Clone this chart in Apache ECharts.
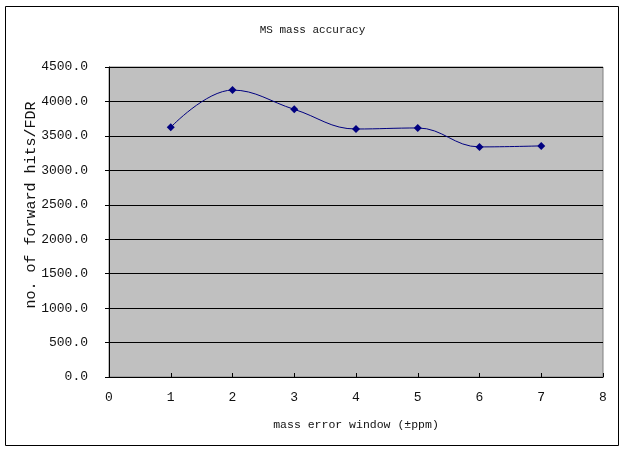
<!DOCTYPE html>
<html>
<head>
<meta charset="utf-8">
<script src="https://cdn.jsdelivr.net/npm/echarts@6/dist/echarts.min.js"></script>
<style>html,body{margin:0;padding:0;background:#fff;}#c{width:625px;height:450px;}</style>
</head>
<body>
<div id="c"></div>
<script>
var xValues = [1, 2, 3, 4, 5, 6, 7];
var hits = [3625, 4165, 3885, 3600, 3615, 3340, 3355];
var chartTitle = 'MS mass accuracy';
var xName = 'mass error window (\u00b1ppm)';
var yName = 'no. of forward hits/FDR';

var FONT = '"Liberation Mono", "DejaVu Sans Mono", monospace';
var chart = echarts.init(document.getElementById('c'), null, {renderer: 'canvas'});
chart.setOption({
  animation: false,
  backgroundColor: '#ffffff',
  title: {
    text: chartTitle, left: 'center', top: 20,
    textStyle: {fontFamily: FONT, fontSize: 11, fontWeight: 'normal', color: '#111'}
  },
  graphic: [{
    type: 'rect', shape: {x: 5.5, y: 6.5, width: 613, height: 439},
    style: {fill: 'none', stroke: '#000', lineWidth: 1}, z: -1
  }, {
    type: 'text', x: 31, y: 205, rotation: Math.PI / 2,
    style: {text: yName, font: '15px ' + FONT, fill: '#111',
      align: 'center', verticalAlign: 'middle'}
  }],
  grid: {left: 109, right: 22, top: 67, bottom: 73, show: true,
    backgroundColor: '#c0c0c0', borderColor: '#808080', borderWidth: 1},
  xAxis: {
    type: 'value', min: 0, max: 8, interval: 1,
    name: xName, nameLocation: 'middle', nameGap: 42,
    nameTextStyle: {fontFamily: FONT, fontSize: 11.5, color: '#111'},
    axisLine: {show: true, lineStyle: {color: '#000', width: 1}},
    axisTick: {show: true, inside: true, length: 4, lineStyle: {color: '#000'}},
    axisLabel: {fontFamily: FONT, fontSize: 13, color: '#111', margin: 14},
    splitLine: {show: false}
  },
  yAxis: {
    type: 'value', min: 0, max: 4500, interval: 500,
    axisLine: {show: true, lineStyle: {color: '#000', width: 1}},
    axisTick: {show: true, inside: false, length: 4, lineStyle: {color: '#000'}},
    axisLabel: {fontFamily: FONT, fontSize: 13, color: '#111', margin: 21,
      formatter: function (v) { return v.toFixed(1); }},
    splitLine: {show: true, lineStyle: {color: '#000', width: 1}}
  },
  series: [{
    type: 'line', smooth: 0.4,
    data: xValues.map(function (x, i) { return [x, hits[i]]; }),
    symbol: 'diamond', symbolSize: 8,
    lineStyle: {color: '#000080', width: 1},
    itemStyle: {color: '#000080'}
  }]
});
</script>
</body>
</html>
